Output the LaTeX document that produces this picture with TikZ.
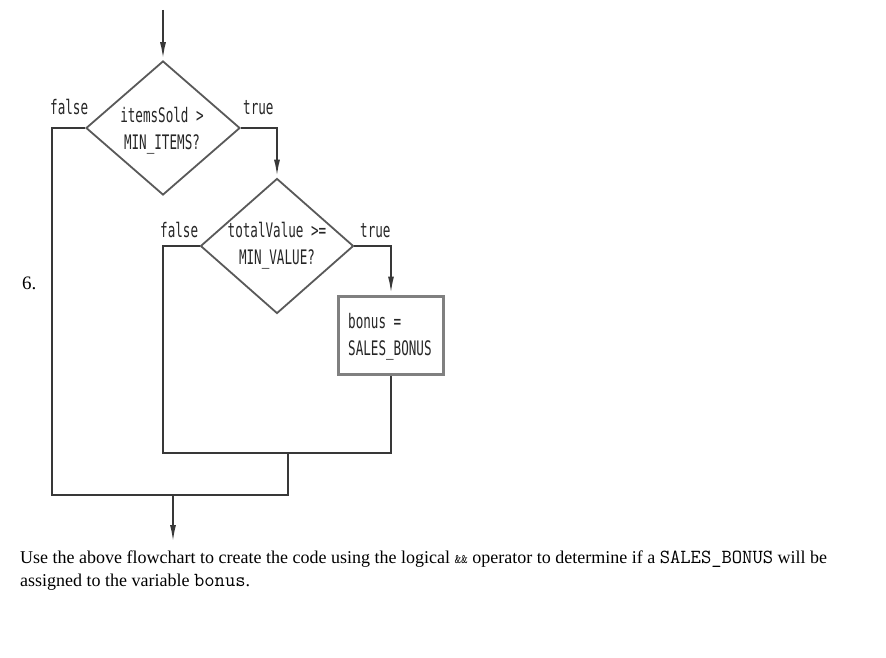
\documentclass[tikz,border=0pt]{standalone}
\usepackage{fontspec}
\usetikzlibrary{shapes.geometric,arrows.meta}
\newfontfamily\fcfont[FakeStretch=0.63]{DejaVu Sans Mono}
\newfontfamily\btfont{Liberation Serif}
\tikzset{
  ln/.style={draw=black!78, line width=2.2pt},
  arr/.style={ln, -{Latex[length=18pt,width=6pt]}},
  dia/.style={diamond, draw=black!65, line width=1.8pt, inner sep=0pt},
  procbox/.style={rectangle, draw=black!50, line width=3pt, inner sep=0pt},
  fctext/.style={font=\fcfont\fontsize{20}{27}\selectfont, text=black!85, inner sep=0pt},
  lbl/.style={fctext, anchor=base west},
  body/.style={font=\btfont\fontsize{18}{23}\selectfont, anchor=base west, inner sep=0pt}
}
\begin{document}
\begin{tikzpicture}[x=1pt,y=-1pt]
\path[use as bounding box] (0,0) rectangle (886,658);
% decisions and process
\node[dia, minimum width=154pt, minimum height=134pt] (d1) at (163,128) {};
\node[fctext, align=center] (t1) at (162,131) {itemsSold >\\MIN\_ITEMS?};
\node[dia, minimum width=153pt, minimum height=135pt] (d2) at (277,246) {};
\node[fctext, align=center] (t2) at (277,246) {totalValue >=\\MIN\_VALUE?};
\node[procbox, minimum width=105pt, minimum height=78pt] (box) at (391,335) {};
\node[fctext, align=left, anchor=west] (t3) at (348,337) {bonus =\\SALES\_BONUS};
% labels
\node[lbl] (f1) at (50,115) {false};
\node[lbl] (r1) at (243,115) {true};
\node[lbl] (f2) at (160,237) {false};
\node[lbl] (r2) at (360,237) {true};
% coordinates
\coordinate (start) at (163,10);
\coordinate (c1) at (52,495);
\coordinate (m1) at (288,495);
\coordinate (c2) at (163,453);
\coordinate (c3) at (391,453);
\coordinate (m2) at (288,453);
\coordinate (x1) at (173,495);
\coordinate (stop) at (173,543);
% connectors
\draw[arr] (start) -- (d1.north);
\draw[arr] (d1.east) -| (d2.north);
\draw[arr] (d2.east) -| (box.north);
\draw[ln] (d1.west) -| (c1) -- (m1) -- (m2);
\draw[ln] (d2.west) -| (c2) -- (c3) -- (box.south);
\draw[arr] (x1) -- (stop);
% text
\node[body, font=\btfont\fontsize{19}{23}\selectfont] (n6) at (22,289) {6.};
\node[body] (q1) at (20,563) {Use the above flowchart to create the code using the logical {\ttfamily\fontsize{13}{15}\selectfont \&\&} operator to determine if a {\ttfamily\fontsize{20}{23}\selectfont SALES\_BONUS} will be};
\node[body] (q2) at (20,586) {assigned to the variable {\ttfamily\fontsize{20}{23}\selectfont bonus}.};
\end{tikzpicture}
\end{document}
